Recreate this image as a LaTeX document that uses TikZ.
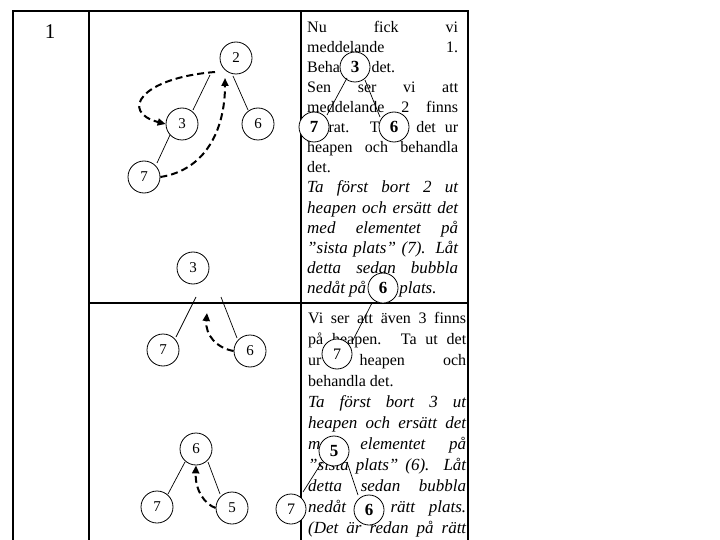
\documentclass[tikz,border=0pt]{standalone}
\usepackage{fontspec}
\setmainfont{Liberation Serif}
\usetikzlibrary{arrows.meta,calc}
\setlength{\parindent}{0pt}
\tolerance=10000
\hbadness=10000
\tikzset{
    heapnode/.style={draw, circle, fill=white, inner sep=0pt, minimum size=32pt,
        line width=0.8pt, font=\fontsize{15}{18}\selectfont},
    heapbold/.style={heapnode, minimum size=30pt, font=\fontsize{17}{20}\selectfont\bfseries},
    heapthin/.style={heapnode, minimum size=30pt, font=\fontsize{16}{20}\selectfont},
    treeedge/.style={line width=0.7pt},
    movearrow/.style={-{Triangle[length=8pt,width=7pt]}, line width=2pt,
        dash pattern=on 7pt off 4pt},
    tableline/.style={line width=2pt},
    celltext/.style={anchor=north west, inner sep=0pt, align=justify}
}

\begin{document}
\begin{tikzpicture}[x=1pt, y=-1pt]
\useasboundingbox (0,0) rectangle (720,540);
\draw[tableline] (13,560) -- (13,11) -- (468,11) -- (468,560);
\draw[tableline] (89,11) -- (89,560);
\draw[tableline] (301,11) -- (301,560);
\draw[tableline] (89,303) -- (468,303);
\node[font=\fontsize{21}{24}\selectfont] (slidenr) at (50,32) {1};

\node[celltext, text width=151pt, font=\fontsize{16}{20.1}\selectfont] (msgone) at (307,17.9)
    {\strut Nu fick vi\linebreak meddelande 1.\linebreak Behandla det.\par
     Sen ser vi att\linebreak meddelande 2 finns\linebreak sparat. Ta ut det ur\linebreak
     heapen och behandla\linebreak det.\par
     \fontsize{17}{20.1}\selectfont\itshape Ta först bort 2 ut\linebreak heapen och ersätt det\linebreak
     med elementet på\linebreak ”sista plats” (7). Låt\linebreak detta sedan bubbla\linebreak
     nedåt på rätt plats.\par};
\node[celltext, text width=158pt, font=\fontsize{16}{21}\selectfont] (msgtwo) at (308,308.3)
    {\strut Vi ser att även 3 finns\linebreak på heapen. Ta ut det\linebreak ur heapen och\linebreak
     behandla det.\par
     \fontsize{17}{21}\selectfont\itshape Ta först bort 3 ut\linebreak heapen och ersätt det\linebreak
     med elementet på\linebreak ”sista plats” (6). Låt\linebreak detta sedan bubbla\linebreak
     nedåt på rätt plats.\linebreak (Det är redan på rätt\linebreak plats!)\par};

\node[heapnode] (a2) at (236,58) {2};
\node[heapnode] (a3) at (182,124) {3};
\node[heapnode] (a6) at (258,124) {6};
\node[heapnode] (a7) at (144,177) {7};
\draw[treeedge] ($(a2)+(-26,17)$) -- ($(a3)+(11,-14)$);
\draw[treeedge] ($(a2)+(-3,18)$) -- ($(a6)+(-10,-14)$);
\draw[treeedge] ($(a3)+(-12,11)$) -- ($(a7)+(13,-14)$);
\draw[movearrow] ($(a2)+(-21,14)$) .. controls +(-75,6) and +(-46,-12) .. (a3.west);
\draw[movearrow] (a7.east) .. controls +(45,-7) and +(0,52) .. ($(a2)+(-11,20)$);

\node[heapnode] (b3) at (193,268) {3};
\node[heapnode] (b7) at (163,350) {7};
\node[heapnode] (b6) at (250,351) {6};
\draw[treeedge] ($(b3)+(3,29)$) -- ($(b7)+(13,-13)$);
\draw[treeedge] ($(b3)+(28,29)$) -- ($(b6)+(-13,-13)$);
\draw[movearrow] (b6.west) .. controls +(-17,-3) and +(-2,22) .. ($(b3)+(14,45)$);

\node[heapnode] (c6) at (196,449) {6};
\node[heapnode] (c7) at (157,507) {7};
\node[heapnode] (c5) at (232,508) {5};
\draw[treeedge] ($(c6)+(-11,13)$) -- ($(c7)+(11,-13)$);
\draw[treeedge] ($(c6)+(12,13)$) -- ($(c5)+(-12,-14)$);
\draw[movearrow] (c5.west) .. controls +(-11,-4) and +(-1,25) .. (c6.south);

\node[heapbold] (d3) at (355,67) {3};
\node[heapbold] (d7) at (314,127) {7};
\node[heapbold] (d6) at (394,127) {6};
\draw[treeedge] ($(d3)+(-8,11)$) -- ($(d7)+(13,-12)$);
\draw[treeedge] ($(d3)+(10,13)$) -- ($(d6)+(-14,-10)$);

\node[heapbold] (e6) at (383,288) {6};
\node[heapthin] (e7) at (337,354) {7};
\draw[treeedge] ($(e6)+(-11,15)$) -- ($(e7)+(15,-12)$);

\node[heapbold] (f5) at (334,451) {5};
\node[heapthin] (f7) at (291,509) {7};
\node[heapbold] (f6) at (369,510) {6};
\draw[treeedge] ($(f5)+(-12,11)$) -- ($(f7)+(12,-17)$);
\draw[treeedge] ($(f5)+(13,11)$) -- ($(f6)+(-11,-15)$);
\end{tikzpicture}
\end{document}
